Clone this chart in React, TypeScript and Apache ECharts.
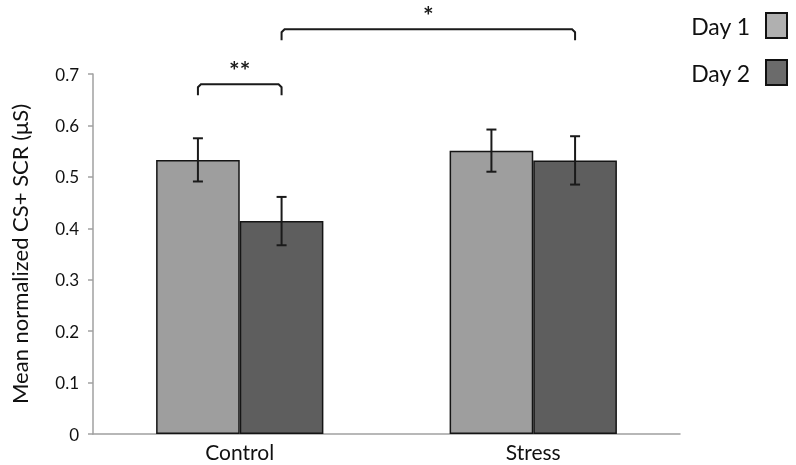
import React, { useEffect, useRef } from "react";
import * as echarts from "echarts";

const categories = ["Control", "Stress"];
const seriesNames = ["Day 1", "Day 2"];
const day1 = [0.533, 0.551];
const day2 = [0.414, 0.532];
const day1Err = [0.042, 0.041];
const day2Err = [0.047, 0.047];
const yMin = 0;
const yMax = 0.7;
const yInterval = 0.1;
// significance brackets: [catA, seriesA, catB, seriesB, barHeight (axis units)]
const brackets = [
  [0, 0, 0, 1, 0.68],
  [0, 1, 1, 1, 0.787],
];
const bracketLabels = ["**", "*"];

const FONT = "Lato, 'Open Sans', sans-serif";
const GAP = 0.43;
const colors = ["#9e9e9e", "#5e5e5e"];
const legendColors = ["#b0b0b0", "#6b6b6b"];

export default function App() {
  const ref = useRef<HTMLDivElement>(null);
  useEffect(() => {
    if (!ref.current) return;
    const chart = echarts.init(ref.current, undefined, { renderer: "svg" });
    const errData: number[][] = [];
    categories.forEach((_, i) => {
      errData.push([i, day1[i], day1Err[i], 0]);
      errData.push([i, day2[i], day2Err[i], 1]);
    });
    const barX = (api: any, cat: number, s: number, v: number) => {
      const c = api.coord([cat, v]);
      const bandW = api.size([1, 0])[0];
      const barW = (bandW * (1 - GAP)) / 2;
      return [c[0] + (s === 0 ? -barW / 2 : barW / 2), c[1]];
    };
    chart.setOption({
      animation: false,
      grid: { left: 92, right: 116, top: 74, bottom: 31 },
      legend: {
        orient: "vertical",
        right: 3,
        top: 7,
        align: "right",
        itemWidth: 21,
        itemHeight: 25,
        itemGap: 20,
        icon: "rect",
        textStyle: { fontSize: 23, fontFamily: FONT, color: "#111", padding: [0, 11, 0, 0] },
        data: seriesNames.map((n, i) => ({
          name: n,
          itemStyle: { color: legendColors[i], borderColor: "#111", borderWidth: 2 },
        })),
      },
      xAxis: {
        type: "category",
        data: categories,
        axisLine: { lineStyle: { color: "#a0a0a0", width: 1.5 } },
        axisTick: { show: false },
        axisLabel: { fontSize: 21, fontFamily: FONT, color: "#111", margin: 7 },
      },
      yAxis: {
        type: "value",
        min: yMin,
        max: yMax,
        interval: yInterval,
        name: "Mean normalized CS+ SCR (\u03bcS)",
        nameLocation: "middle",
        nameGap: 63,
        nameTextStyle: { fontSize: 22, fontFamily: FONT, color: "#111" },
        axisLine: { show: true, lineStyle: { color: "#a0a0a0", width: 1.5 } },
        axisTick: { show: true, length: 5, lineStyle: { color: "#a0a0a0", width: 1.5 } },
        axisLabel: { fontSize: 17, fontFamily: FONT, color: "#111", margin: 14 },
        splitLine: { show: false },
      },
      series: [
        {
          name: seriesNames[0],
          type: "bar",
          data: day1,
          barGap: "0%",
          barCategoryGap: GAP * 100 + "%",
          itemStyle: { color: colors[0], borderColor: "#151515", borderWidth: 1.5 },
        },
        {
          name: seriesNames[1],
          type: "bar",
          data: day2,
          barGap: "0%",
          barCategoryGap: GAP * 100 + "%",
          itemStyle: { color: colors[1], borderColor: "#151515", borderWidth: 1.5 },
        },
        {
          type: "custom",
          data: errData,
          z: 10,
          silent: true,
          renderItem: (params: any, api: any) => {
            const cat = api.value(0);
            const v = api.value(1);
            const e = api.value(2);
            const s = api.value(3);
            const top = barX(api, cat, s, v + e);
            const bot = barX(api, cat, s, v - e);
            const x = top[0];
            const hw = 5;
            const st = { stroke: "#1a1a1a", lineWidth: 2 };
            return {
              type: "group",
              children: [
                { type: "line", shape: { x1: x, y1: top[1], x2: x, y2: bot[1] }, style: st },
                { type: "line", shape: { x1: x - hw, y1: top[1], x2: x + hw, y2: top[1] }, style: st },
                { type: "line", shape: { x1: x - hw, y1: bot[1], x2: x + hw, y2: bot[1] }, style: st },
              ],
            };
          },
        },
        {
          type: "custom",
          data: brackets,
          z: 10,
          silent: true,
          clip: false,
          renderItem: (params: any, api: any) => {
            const a = barX(api, api.value(0), api.value(1), api.value(4));
            const b = barX(api, api.value(2), api.value(3), api.value(4));
            const y = a[1];
            const leg = 11;
            const r = 3;
            const st = { stroke: "#1a1a1a", lineWidth: 2, fill: null };
            return {
              type: "group",
              children: [
                {
                  type: "polyline",
                  shape: {
                    points: [
                      [a[0], y + leg],
                      [a[0], y + r],
                      [a[0] + r, y],
                      [b[0] - r, y],
                      [b[0], y + r],
                      [b[0], y + leg],
                    ],
                  },
                  style: st,
                },
                {
                  type: "text",
                  style: {
                    text: bracketLabels[params.dataIndex],
                    x: (a[0] + b[0]) / 2,
                    y: y - 2,
                    align: "center",
                    verticalAlign: "bottom",
                    font: "bold 25px " + FONT,
                    fill: "#1a1a1a",
                  },
                },
              ],
            };
          },
        },
      ],
    });
    return () => chart.dispose();
  }, []);
  return (
    <div
      ref={ref}
      style={{ position: "fixed", left: 0, top: 0, width: 796, height: 465 }}
    />
  );
}
